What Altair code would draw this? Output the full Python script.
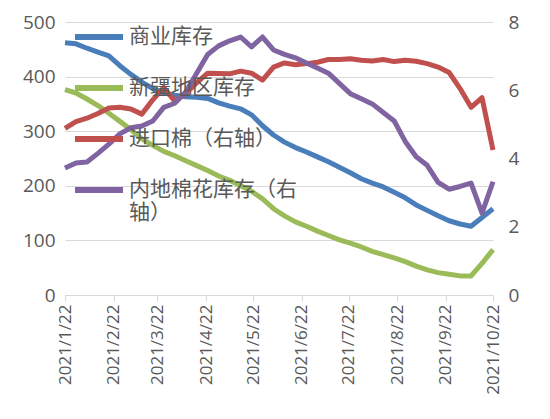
import altair as alt
import pandas as pd

# weekly observations, 2021/1/22 .. 2021/10/22
dates = pd.date_range("2021-01-22", periods=40, freq="7D").strftime("%Y/%m/%d").tolist()

commercial = [462, 460, 452, 445, 438, 420, 404, 390, 378, 370,
              366, 363, 362, 360, 352, 346, 341, 330, 310, 293,
              280, 270, 262, 253, 244, 234, 224, 213, 205, 198,
              188, 178, 165, 155, 145, 136, 130, 126, 142, 158]
xinjiang = [376, 370, 359, 347, 333, 318, 303, 286, 274, 263,
            255, 246, 237, 228, 218, 210, 200, 190, 176, 158,
            145, 134, 126, 117, 109, 101, 95, 88, 80, 74,
            68, 61, 53, 46, 41, 38, 35, 35, 58, 83]
imported = [4.88, 5.08, 5.18, 5.32, 5.48, 5.5, 5.45, 5.3, 5.72, 6.08,
            5.68, 5.9, 6.22, 6.5, 6.49, 6.48, 6.56, 6.5, 6.3, 6.68,
            6.8, 6.75, 6.78, 6.82, 6.9, 6.9, 6.92, 6.88, 6.86, 6.9,
            6.84, 6.88, 6.85, 6.78, 6.68, 6.52, 6.05, 5.5, 5.78, 4.25]
inland = [3.72, 3.87, 3.9, 4.15, 4.42, 4.72, 4.9, 4.95, 5.1, 5.5,
          5.62, 5.95, 6.5, 7.05, 7.3, 7.45, 7.56, 7.27, 7.56, 7.18,
          7.05, 6.95, 6.8, 6.65, 6.5, 6.2, 5.9, 5.75, 5.6, 5.35,
          5.1, 4.5, 4.05, 3.8, 3.3, 3.1, 3.18, 3.28, 2.4, 3.32]

names = ["商业库存", "新疆地区库存", "进口棉（右轴）", "内地棉花库存（右轴）"]
colors = ["#4a7ebb", "#9bbb59", "#c0504d", "#8064a2"]
months = [1, 2, 3, 4, 5, 6, 7, 8, 9, 10]

left_df = pd.DataFrame({"date": dates * 2,
                        "series": [names[0]] * 40 + [names[1]] * 40,
                        "value": commercial + xinjiang})
right_df = pd.DataFrame({"date": dates * 2,
                         "series": [names[2]] * 40 + [names[3]] * 40,
                         "value": imported + inland})

grey = "#595959"
light = "#d9d9d9"
font = "Open Sans"
cjk = "Noto Sans CJK SC"

x = alt.X("date:T", title=None,
          scale=alt.Scale(domain=[alt.DateTime(year=2021, month=1, date=22),
                                  alt.DateTime(year=2021, month=10, date=22)], nice=False),
          axis=alt.Axis(values=[alt.DateTime(year=2021, month=m, date=22) for m in months],
                        format="%Y/%-m/%d", labelAngle=270, grid=False,
                        domainColor=light, tickColor=light, tickSize=6,
                        labelFont=font, labelFontSize=17, labelColor=grey,
                        labelPadding=3, labelOverlap=False))

color = alt.Color("series:N",
                  scale=alt.Scale(domain=names, range=colors),
                  legend=alt.Legend(orient="none", legendX=7, legendY=-12, title=None,
                                    symbolType="stroke", symbolSize=2304, symbolStrokeWidth=6,
                                    labelFont=cjk, labelFontSize=21, labelColor=grey,
                                    labelOffset=3, labelLimit=400, rowPadding=12, padding=0,
                                    labelExpr="datum.label == '内地棉花库存（右轴）' ? ['内地棉花库存（右', '轴）'] : datum.label"))

left = alt.Chart(left_df).mark_line(strokeWidth=5, strokeJoin="round").encode(
    x=x,
    y=alt.Y("value:Q", title=None, scale=alt.Scale(domain=[0, 500]),
            axis=alt.Axis(values=[0, 100, 200, 300, 400, 500], grid=True, gridColor=light,
                          domain=False, ticks=False, labelFont=font, labelFontSize=19,
                          labelColor=grey, labelPadding=10)),
    color=color,
)

right = alt.Chart(right_df).mark_line(strokeWidth=5, strokeJoin="round").encode(
    x=x,
    y=alt.Y("value:Q", title=None, scale=alt.Scale(domain=[0, 8]),
            axis=alt.Axis(orient="right", values=[0, 2, 4, 6, 8], grid=False,
                          domain=False, ticks=False, labelFont=font, labelFontSize=19,
                          labelColor=grey, labelPadding=15)),
    color=color,
)

chart = alt.layer(left, right).resolve_scale(y="independent").properties(
    width=428, height=273,
    autosize=alt.AutoSizeParams(type="none"),
    padding={"left": 57, "top": 14, "right": 45, "bottom": 110},
).configure_view(stroke=None)

chart.save("out.html", embed_options={"renderer": "svg", "actions": False})
